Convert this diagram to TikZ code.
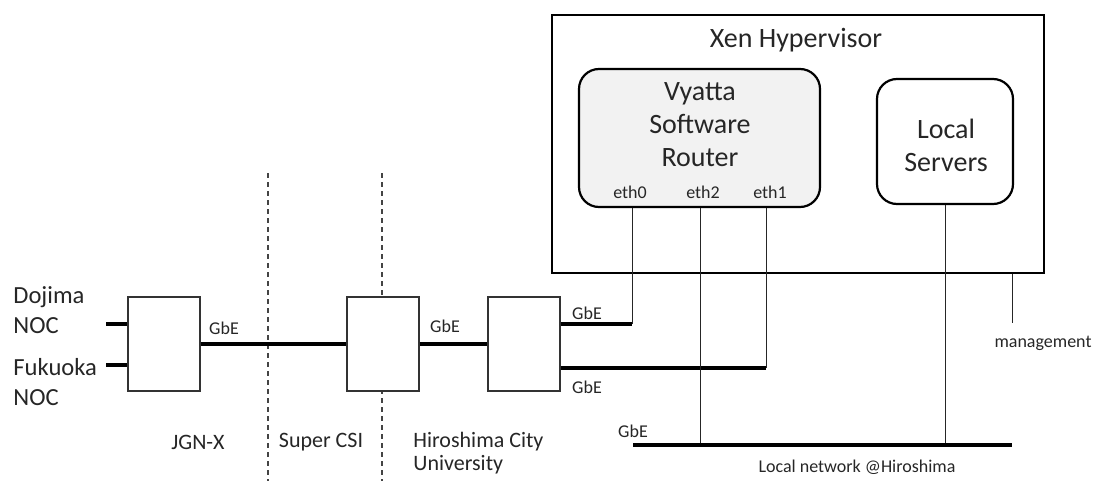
\documentclass[tikz,border=0pt]{standalone}
\usepackage{fontspec}
\setmainfont{Carlito}
\definecolor{txt}{HTML}{262626}
\definecolor{routerfill}{HTML}{F2F2F2}
\definecolor{dashgray}{HTML}{444444}
\begin{document}
\begin{tikzpicture}[x=0.5pt,y=-0.5pt,
  switchbox/.style={draw=black!80,line width=0.6pt,fill=white,minimum width=36pt,minimum height=47pt,inner sep=0pt},
  hyperbox/.style={draw=black,line width=1.1pt,minimum width=246pt,minimum height=129pt,inner sep=0pt},
  vmbox/.style={draw=black,line width=1.1pt,rounded corners=10pt,inner sep=0pt},
  thickline/.style={line width=1.6pt,black},
  thinline/.style={line width=0.5pt,black!85},
  divider/.style={dashgray,line width=0.6pt,dash pattern=on 2.5pt off 2pt},
  biglabel/.style={text=txt,font=\fontsize{14}{16.5}\selectfont,align=center,inner sep=0pt},
  midlabel/.style={text=txt,font=\fontsize{12.3}{15}\selectfont,align=left,inner sep=0pt},
  zonelabel/.style={text=txt,font=\fontsize{11}{11.5}\selectfont,inner sep=0pt},
  smalllabel/.style={text=txt,font=\fontsize{9}{11}\selectfont,inner sep=0pt}]
\useasboundingbox (0,0) rectangle (1102,481);

% dashed dividers
\coordinate (d1t) at (268,173); \coordinate (d1b) at (268,481);
\coordinate (d2t) at (382,173); \coordinate (d2b) at (382,481);
\draw[divider] (d1t) -- (d1b);
\draw[divider] (d2t) -- (d2b);

% hypervisor and VMs
\node[hyperbox] (hyp) at (798,144) {};
\node[vmbox,fill=routerfill,minimum width=120.5pt,minimum height=69pt] (router) at (699.5,138) {};
\node[vmbox,fill=white,minimum width=68pt,minimum height=62.5pt] (servers) at (945,141.5) {};
\node[biglabel] (hyplabel) at (796,40) {Xen Hypervisor};
\node[biglabel] (routerlabel) at (700,125) {Vyatta\\Software\\Router};
\node[biglabel] (serverslabel) at (946,145) {Local\\Servers};
\node[smalllabel] (eth0) at (630,192) {eth0};
\node[smalllabel] (eth2) at (703,192) {eth2};
\node[smalllabel] (eth1) at (770,192) {eth1};

% switches
\node[switchbox] (sw1) at (164,344) {};
\node[switchbox] (sw2) at (383,344) {};
\node[switchbox] (sw3) at (524,344) {};

% NOC stubs
\coordinate (dojima) at (106,324);
\coordinate (fukuoka) at (106,365);
\draw[thickline] (dojima) -- (dojima -| sw1.west);
\draw[thickline] (fukuoka) -- (fukuoka -| sw1.west);
\node[midlabel,anchor=west] (dojimalabel) at (13,310) {Dojima\\NOC};
\node[midlabel,anchor=west] (fukuokalabel) at (13,382) {Fukuoka\\NOC};

% trunk
\draw[thickline] (sw1.east) -- (sw2.west);
\draw[thickline] (sw2.east) -- (sw3.west);

% router uplinks
\coordinate (e0) at (632,324);
\coordinate (e1) at (766,368);
\draw[thickline] (sw3.east |- e0) -- (e0);
\draw[thinline] (e0) -- (e0 |- router.south);
\draw[thickline] (sw3.east |- e1) -- (e1);
\draw[thinline] (e1) -- (e1 |- router.south);

% local network
\coordinate (lanl) at (633,445);
\coordinate (lanr) at (1012,445);
\coordinate (e2) at (700,445);
\draw[thinline] (e2 |- router.south) -- (e2);
\draw[thinline] (servers.south) -- (servers.south |- lanl);
\draw[thickline] (lanl) -- (lanr);

% management
\coordinate (mgmt) at (1012,323);
\draw[thinline] (mgmt |- hyp.south) -- (mgmt);

% labels
\node[smalllabel] (g1) at (224,328) {GbE};
\node[smalllabel] (g2) at (445,326) {GbE};
\node[smalllabel] (g3) at (587,313) {GbE};
\node[smalllabel] (g4) at (587,387) {GbE};
\node[smalllabel] (g5) at (633,431) {GbE};
\node[smalllabel] (mgmtlabel) at (1043,343) {management};
\node[smalllabel] (lanlabel) at (857,467) {Local network @Hiroshima};
\node[zonelabel] (jgn) at (198,442) {JGN-X};
\node[zonelabel] (csi) at (321,442) {Super CSI};
\node[zonelabel,align=left,anchor=west] (hcu) at (413,453.5) {Hiroshima City\\University};
\end{tikzpicture}
\end{document}
